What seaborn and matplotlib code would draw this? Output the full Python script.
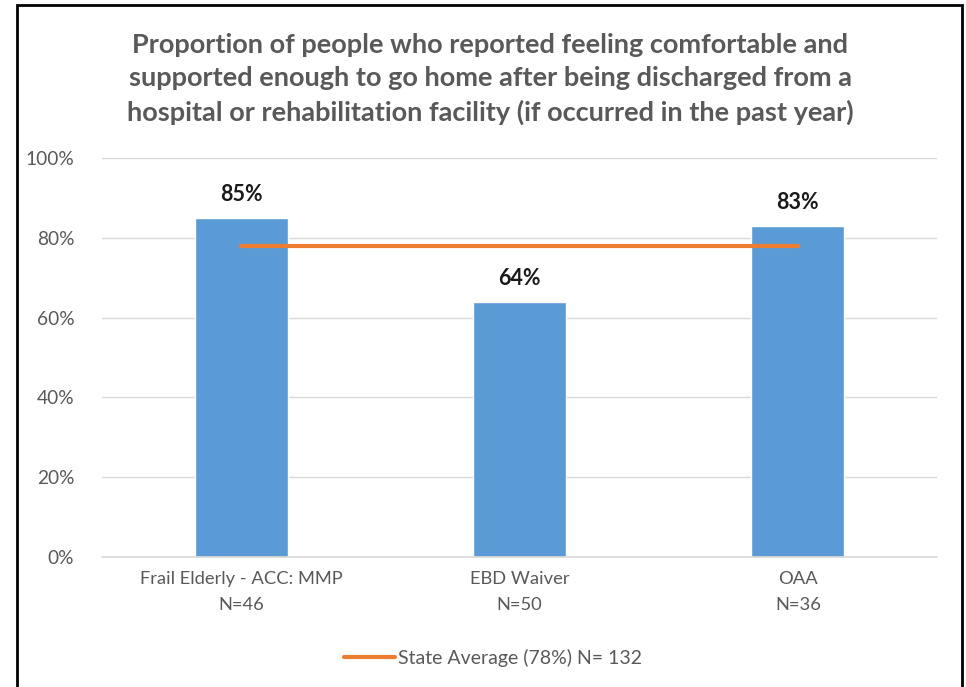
import matplotlib
matplotlib.use("Agg")
import matplotlib.pyplot as plt
import seaborn as sns
import pandas as pd
from matplotlib.patches import Rectangle
from matplotlib.lines import Line2D
from matplotlib.ticker import PercentFormatter

categories = ["Frail Elderly - ACC: MMP\nN=46", "EBD Waiver\nN=50", "OAA\nN=36"]
values = [85, 64, 83]
bar_labels = ["85%", "64%", "83%"]
state_avg = 78
legend_label = "State Average (78%) N= 132"
title = ("Proportion of people who reported feeling comfortable and\n"
         "supported enough to go home after being discharged from a\n"
         "hospital or rehabilitation facility (if occurred in the past year)")

df = pd.DataFrame({"group": categories, "pct": values})

sns.set_theme(style="white")
plt.rcParams["font.family"] = ["Lato", "DejaVu Sans"]

fig = plt.figure(figsize=(9.66, 6.87), dpi=100)
ax = fig.add_axes([102 / 966, 1 - 557 / 687, 835 / 966, 399 / 687])

sns.barplot(data=df, x="group", y="pct", color="#5B9BD5", width=0.334,
            saturation=1, ax=ax, zorder=2)

# state average line across the categories
ax.plot(range(len(categories)), [state_avg] * len(categories), color="#ED7D31",
        lw=3, solid_capstyle="round", zorder=3)

for i, (v, lab) in enumerate(zip(values, bar_labels)):
    ax.text(i, v + 3.2, lab, ha="center", va="bottom", fontsize=15.5,
            fontweight="bold", color="#1a1a1a")

ax.set_ylim(0, 100)
ax.set_xlim(-0.5, 2.5)
ax.set_yticks(range(0, 101, 20))
ax.yaxis.set_major_formatter(PercentFormatter(decimals=0))
ax.yaxis.grid(True, color="#D9D9D9", lw=1)
ax.set_axisbelow(True)
for s in ["top", "right", "left"]:
    ax.spines[s].set_visible(False)
ax.spines["bottom"].set_color("#D9D9D9")
ax.spines["bottom"].set_linewidth(1.2)
ax.tick_params(axis="both", length=0, labelcolor="#595959")
ax.tick_params(axis="y", pad=20, labelsize=13.8)
ax.tick_params(axis="x", pad=10, labelsize=13.2)
for t in ax.get_xticklabels():
    t.set_linespacing(1.75)
ax.set_xlabel("")
ax.set_ylabel("")

fig.text(490 / 966, 1 - 79 / 687, title, ha="center", va="center",
         fontsize=19.5, fontweight="bold", color="#595959", linespacing=1.45)

handle = Line2D([], [], color="#ED7D31", lw=3, solid_capstyle="round")
fig.legend([handle], [legend_label], loc="center", bbox_to_anchor=(493 / 966, 1 - 658 / 687),
           frameon=False, fontsize=14, handlelength=2.6, handletextpad=0.15,
           labelcolor="#595959")

fig.patches.append(Rectangle((17 / 966, -0.02), 945 / 966, 1 - 5 / 687 + 0.02,
                             transform=fig.transFigure, fill=False,
                             edgecolor="black", lw=2))

fig.savefig("out.png", dpi=100)
